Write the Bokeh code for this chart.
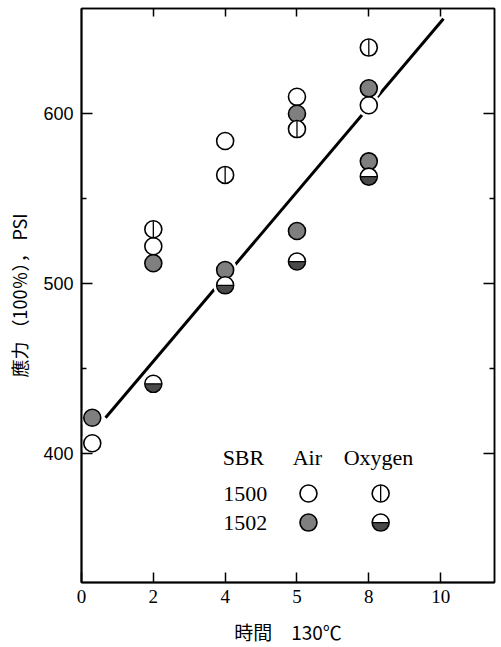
import math

from bokeh.core.properties import value
from bokeh.embed import file_html
from bokeh.models import FixedTicker, LinearAxis, Range1d
from bokeh.plotting import figure
from bokeh.resources import INLINE

# Heating time (h) at 130 C and stress at 100 % elongation (psi)
air_1500_x = [0.3, 2, 4, 6, 8]
air_1500_y = [406, 522, 584, 610, 605]

air_1502_x = [0.3, 2, 4, 6, 6, 8, 8]
air_1502_y = [421, 512, 508, 600, 531, 615, 572]

oxy_1500_x = [2, 4, 6, 8]
oxy_1500_y = [532, 564, 591, 639]

oxy_1502_x = [2, 4, 6, 8]
oxy_1502_y = [441, 499, 513, 563]

# fitted straight line (end points)
trend_x = [0.67, 10.08]
trend_y = [421, 656]

x_ticks = [0, 2, 4, 6, 8, 10]
x_tick_text = {6: "5"}
y_ticks = [400, 500, 600]
y_minor = [450, 550]

SERIF = "Liberation Serif"
CJK = "Noto Sans CJK JP"
MARK = 17
GREY = "#7f7f7f"
DARK = "#4a4a4a"

p = figure(
    width=501, height=647,
    x_range=Range1d(0, 11.5), y_range=Range1d(324, 662),
    output_backend="svg", toolbar_location=None,
    min_border_left=81, min_border_right=7,
    min_border_top=8, min_border_bottom=65,
)
p.xgrid.visible = False
p.ygrid.visible = False
p.background_fill_color = "white"
p.border_fill_color = "white"
p.outline_line_color = "black"
p.outline_line_width = 1.5


def style_axis(ax, tick_in):
    ax.axis_line_color = "black"
    ax.axis_line_width = 2
    ax.major_tick_in = tick_in
    ax.major_tick_out = 0
    ax.minor_tick_in = 5
    ax.minor_tick_out = 0
    ax.major_tick_line_width = 1.5
    ax.minor_tick_line_width = 1.5


def bare_axis(ax, ticks):
    # tick marks only, no labels and no reserved label space
    ax.axis_line_width = 1.5
    ax.major_label_overrides = {t: "" for t in ticks}
    ax.major_label_text_font_size = "0px"
    ax.major_label_standoff = 0


# bottom axis
xa = p.xaxis[0]
xa.ticker = FixedTicker(ticks=x_ticks, minor_ticks=[])
xa.major_label_overrides = x_tick_text
style_axis(xa, 10)
xa.major_label_text_font = SERIF
xa.major_label_text_font_size = "19px"
xa.major_label_text_color = "black"
xa.major_label_standoff = 7
xa.axis_label = "時間\u3000130℃"
xa.axis_label_text_font = CJK
xa.axis_label_text_font_size = "19px"
xa.axis_label_text_font_style = "normal"
xa.axis_label_text_color = "black"
xa.axis_label_standoff = 12

# left axis
ya = p.yaxis[0]
ya.ticker = FixedTicker(ticks=y_ticks, minor_ticks=y_minor)
style_axis(ya, 11)
ya.major_label_text_font = "Liberation Sans"
ya.major_label_text_font_size = "18px"
ya.major_label_text_color = "black"
ya.major_label_standoff = 8
ya.axis_label = "應力 （100％）， PSI"
ya.axis_label_text_font = CJK
ya.axis_label_text_font_size = "18px"
ya.axis_label_text_font_style = "normal"
ya.axis_label_text_color = "black"
ya.axis_label_standoff = 8

# top and right frame ticks (no labels)
top = LinearAxis(ticker=FixedTicker(ticks=x_ticks[1:], minor_ticks=[]))
style_axis(top, 8)
bare_axis(top, x_ticks[1:])
p.add_layout(top, "above")

right = LinearAxis(ticker=FixedTicker(ticks=y_ticks, minor_ticks=y_minor))
style_axis(right, 11)
bare_axis(right, y_ticks)
p.add_layout(right, "right")

# trend line with white gaps around the markers it passes
p.line(trend_x, trend_y, line_color="black", line_width=3)
all_x = air_1500_x + air_1502_x + oxy_1500_x + oxy_1502_x
all_y = air_1500_y + air_1502_y + oxy_1500_y + oxy_1502_y
p.scatter(all_x, all_y, marker="circle", size=MARK + 7,
          fill_color="white", line_color=None)


def draw_air_1500(xs, ys):
    p.scatter(xs, ys, marker="circle", size=MARK, fill_color="white",
              line_color="black", line_width=1.6)


def draw_air_1502(xs, ys):
    p.scatter(xs, ys, marker="circle", size=MARK, fill_color=GREY,
              line_color="black", line_width=1.6)


def draw_oxy_1500(xs, ys):
    p.scatter(xs, ys, marker="circle", size=MARK, fill_color="white",
              line_color="black", line_width=1.6)
    p.scatter(xs, ys, marker="dash", size=MARK - 1, angle=math.pi / 2,
              line_color="black", line_width=1.3)


def draw_oxy_1502(xs, ys):
    p.scatter(xs, ys, marker="circle", size=MARK, fill_color="white",
              line_color=None)
    p.wedge(xs, ys, radius=MARK / 2 - 0.5, radius_units="screen",
            start_angle=math.pi, end_angle=2 * math.pi,
            fill_color=DARK, line_color=None)
    p.scatter(xs, ys, marker="circle", size=MARK, fill_alpha=0,
              line_color="black", line_width=1.6)
    p.scatter(xs, ys, marker="dash", size=MARK - 1,
              line_color="black", line_width=1.3)


draw_air_1500(air_1500_x, air_1500_y)
draw_air_1502(air_1502_x, air_1502_y)
draw_oxy_1500(oxy_1500_x, oxy_1500_y)
draw_oxy_1502(oxy_1502_x, oxy_1502_y)

# key table inside the plot
p.text(x=[3.93, 5.88, 7.3, 3.95, 3.95], y=[397.6, 397.6, 397.6, 376.4, 359.3],
       text=["SBR", "Air", "Oxygen", "1500", "1502"],
       text_font=value(SERIF), text_font_size="22px", text_color="black",
       text_align="left", text_baseline="middle")
draw_air_1500([6.32], [376.4])
draw_oxy_1500([8.33], [376.4])
draw_air_1502([6.32], [359.3])
draw_oxy_1502([8.33], [359.3])

open("out.html", "w").write(file_html(p, INLINE))
